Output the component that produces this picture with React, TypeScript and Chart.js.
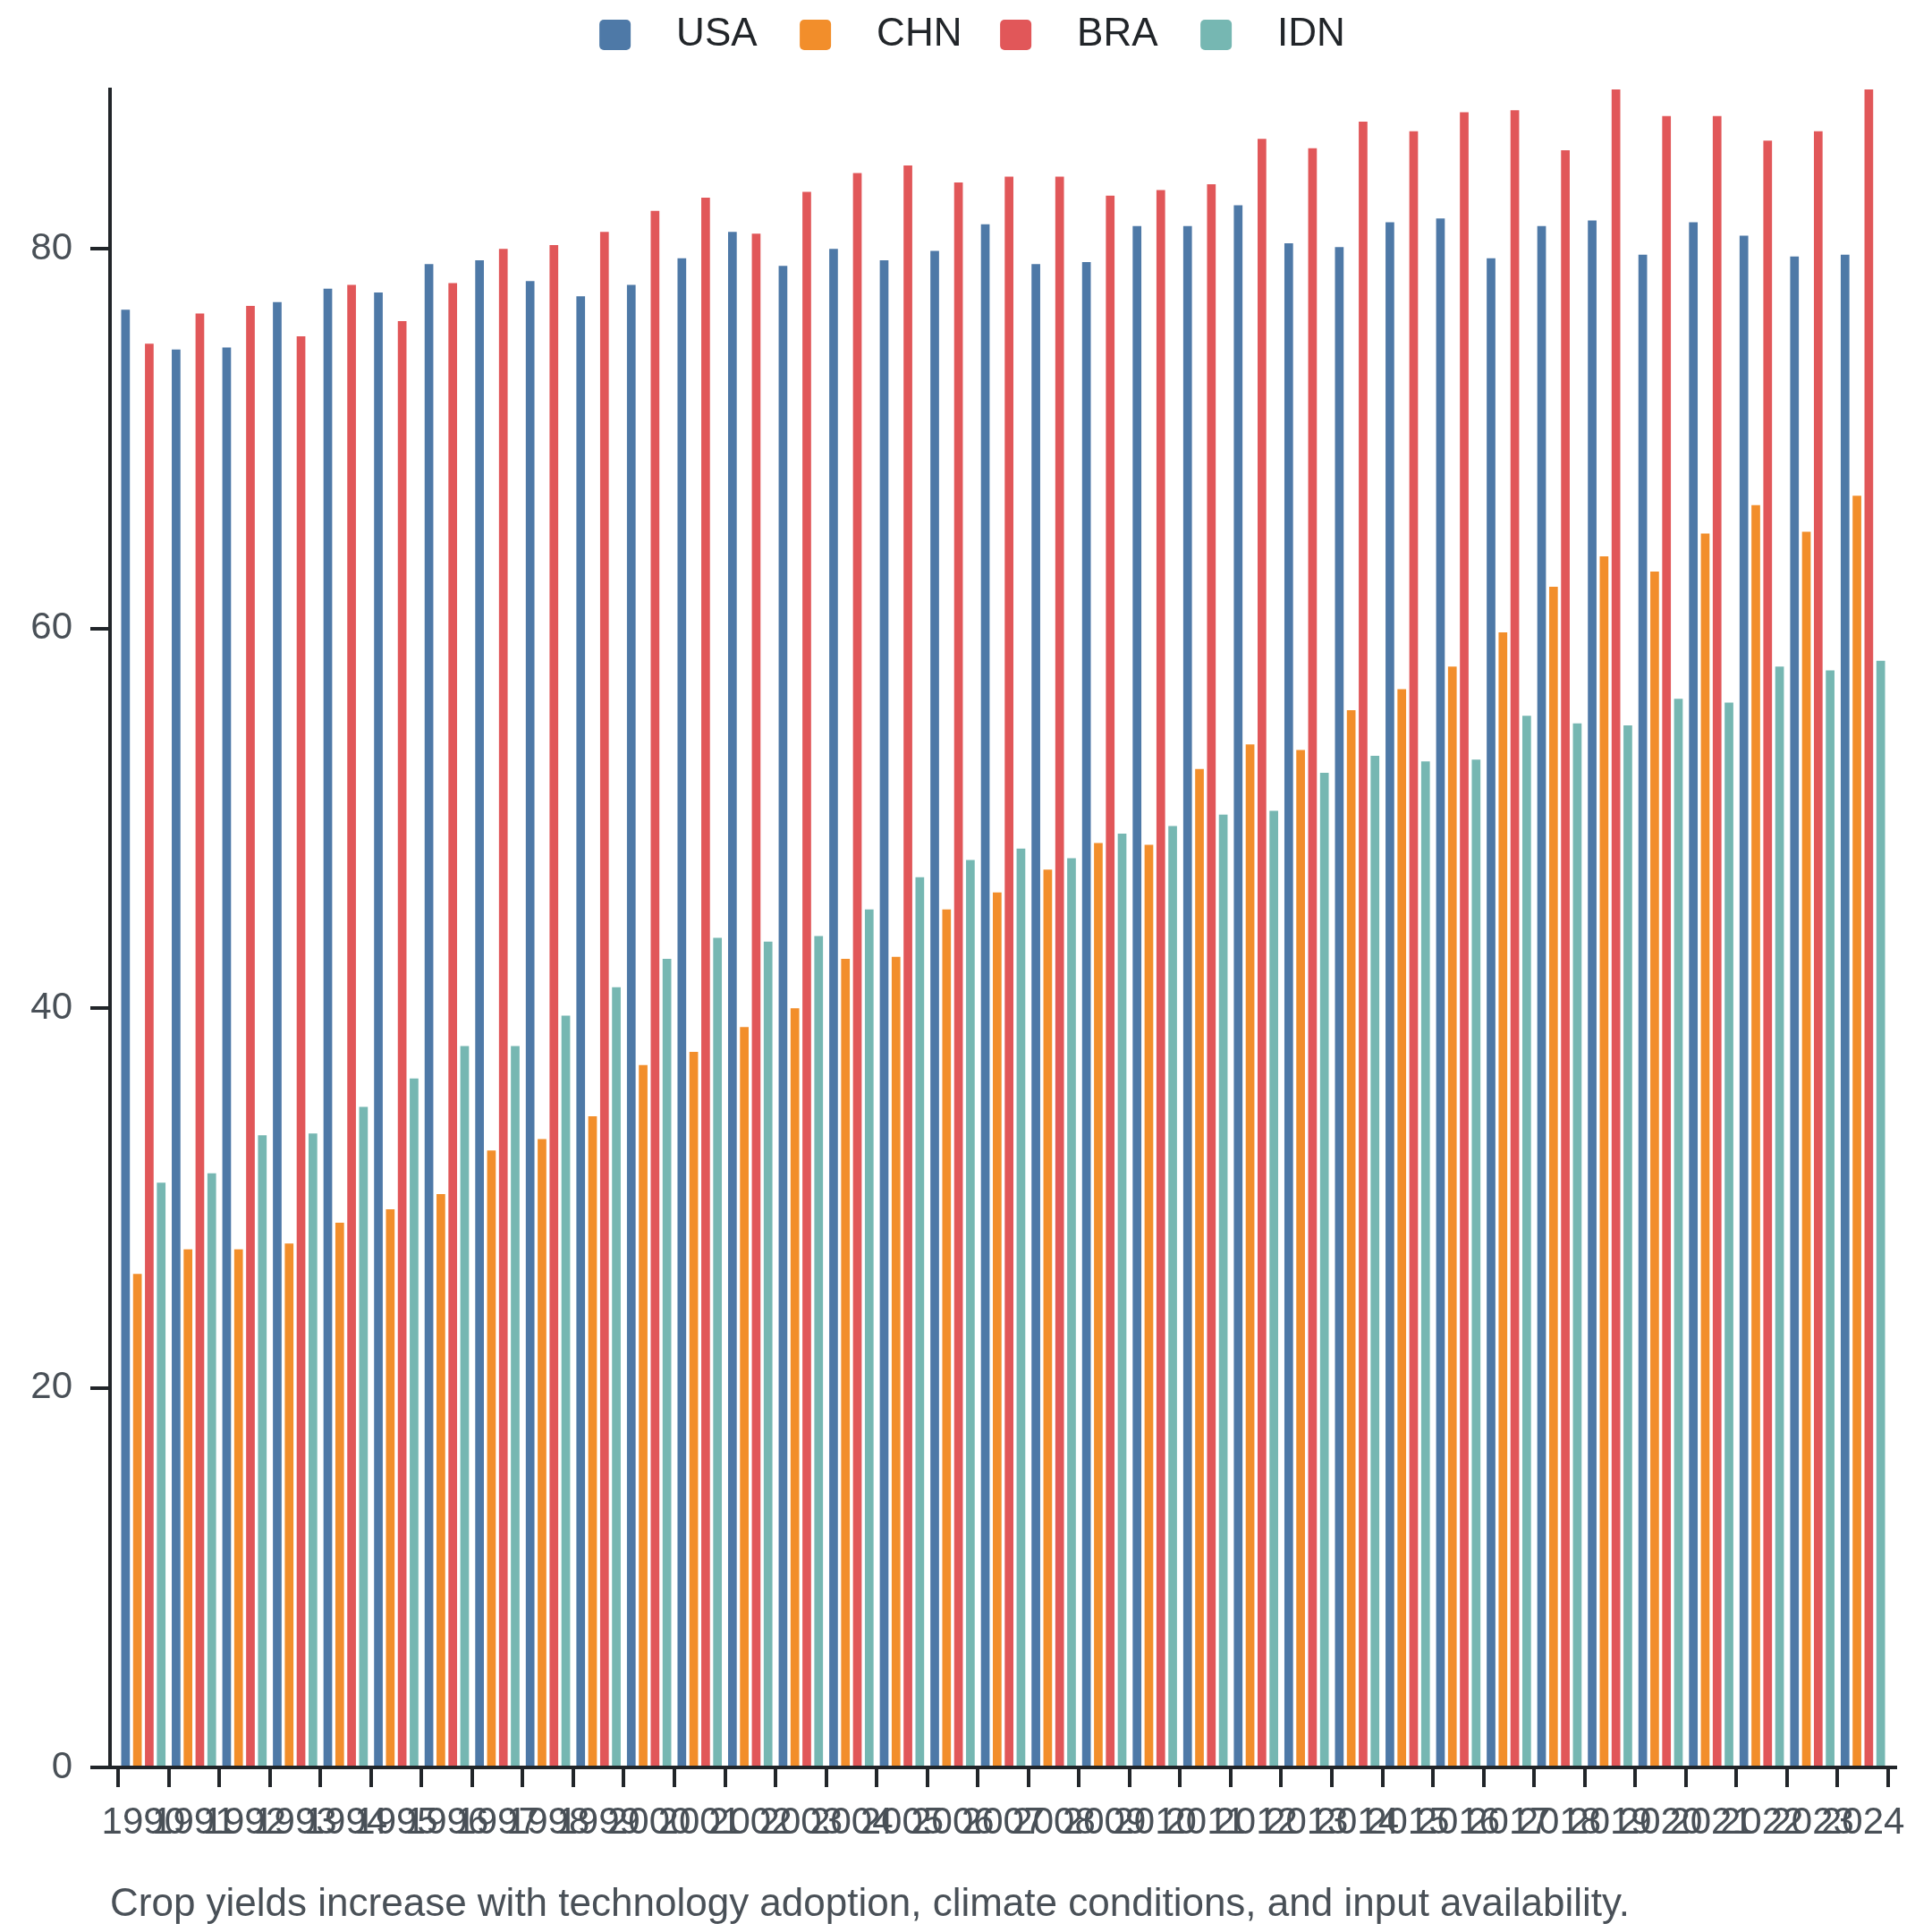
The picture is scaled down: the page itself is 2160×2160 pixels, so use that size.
import React, { useEffect, useRef } from "react";
import { Chart, registerables } from "chart.js";

Chart.register(...registerables);

const YEARS = [
  "1990", "1991", "1992", "1993", "1994", "1995", "1996", "1997", "1998", "1999",
  "2000", "2001", "2002", "2003", "2004", "2005", "2006", "2007", "2008", "2009",
  "2010", "2011", "2012", "2013", "2014", "2015", "2016", "2017", "2018", "2019",
  "2020", "2021", "2022", "2023", "2024",
];

const SERIES_NAMES = ["USA", "CHN", "BRA", "IDN"];

const USA = [
  76.8, 74.7, 74.8, 77.2, 77.9, 77.7, 79.2, 79.4, 78.3, 77.5,
  78.1, 79.5, 80.9, 79.1, 80.0, 79.4, 79.9, 81.3, 79.2, 79.3,
  81.2, 81.2, 82.3, 80.3, 80.1, 81.4, 81.6, 79.5, 81.2, 81.5,
  79.7, 81.4, 80.7, 79.6, 79.7,
];

const CHN = [
  26.0, 27.3, 27.3, 27.6, 28.7, 29.4, 30.2, 32.5, 33.1, 34.3,
  37.0, 37.7, 39.0, 40.0, 42.6, 42.7, 45.2, 46.1, 47.3, 48.7,
  48.6, 52.6, 53.9, 53.6, 55.7, 56.8, 58.0, 59.8, 62.2, 63.8,
  63.0, 65.0, 66.5, 65.1, 67.0,
];

const BRA = [
  75.0, 76.6, 77.0, 75.4, 78.1, 76.2, 78.2, 80.0, 80.2, 80.9,
  82.0, 82.7, 80.8, 83.0, 84.0, 84.4, 83.5, 83.8, 83.8, 82.8,
  83.1, 83.4, 85.8, 85.3, 86.7, 86.2, 87.2, 87.3, 85.2, 88.4,
  87.0, 87.0, 85.7, 86.2, 88.4,
];

const IDN = [
  30.8, 31.3, 33.3, 33.4, 34.8, 36.3, 38.0, 38.0, 39.6, 41.1,
  42.6, 43.7, 43.5, 43.8, 45.2, 46.9, 47.8, 48.4, 47.9, 49.2,
  49.6, 50.2, 50.4, 52.4, 53.3, 53.0, 53.1, 55.4, 55.0, 54.9,
  56.3, 56.1, 58.0, 57.8, 58.3,
];

const Y_TICK_STEP = 20;

const CAPTION =
  "Crop yields increase with technology adoption, climate conditions, and input availability.";

const COLORS = ["#4e79a7", "#f28e2b", "#e15759", "#76b7b2"];
const FONT = "'Liberation Sans', Arial, Helvetica, sans-serif";
const AXIS_COLOR = "#212529";
const TICK_TEXT = "#495057";

// Legend drawn at the top of the canvas: fixed-pitch slots, centred.
const legendPlugin = {
  id: "slotLegend",
  afterDraw(chart: any) {
    const ctx = chart.ctx as CanvasRenderingContext2D;
    const datasets = chart.data.datasets;
    const pitch = 224;
    const boxW = 35;
    const boxH = 34;
    const textGap = 51;
    const centerY = 31;
    ctx.save();
    ctx.font = `44px ${FONT}`;
    const lastW = ctx.measureText(datasets[datasets.length - 1].label).width;
    const total = pitch * (datasets.length - 1) + boxW + textGap + lastW;
    let x = chart.width / 2 - total / 2 + 7;
    datasets.forEach((ds: any) => {
      ctx.fillStyle = ds.backgroundColor;
      ctx.beginPath();
      if ((ctx as any).roundRect) {
        (ctx as any).roundRect(x, centerY - boxH / 2, boxW, boxH, 5);
      } else {
        ctx.rect(x, centerY - boxH / 2, boxW, boxH);
      }
      ctx.fill();
      ctx.fillStyle = AXIS_COLOR;
      ctx.textAlign = "left";
      ctx.textBaseline = "middle";
      ctx.fillText(ds.label, x + boxW + textGap, centerY);
      x += pitch;
    });
    ctx.restore();
  },
};

const axisInset = {
  id: "axisInset",
  afterLayout(chart: any) {
    const s = chart.scales.x;
    if (!s) return;
    s._startPixel = s.left + 9;
    s._endPixel = s.right - 8;
    s._length = s._endPixel - s._startPixel;
  },
};

export default function App() {
  const canvasRef = useRef<HTMLCanvasElement | null>(null);

  useEffect(() => {
    if (!canvasRef.current) return;
    const seriesValues = [USA, CHN, BRA, IDN];

    const chart = new Chart(canvasRef.current, {
      type: "bar",
      data: {
        labels: YEARS,
        datasets: SERIES_NAMES.map((name, i) => ({
          label: name,
          data: seriesValues[i],
          backgroundColor: COLORS[i],
          borderWidth: 0,
          categoryPercentage: 0.94,
          barPercentage: 0.73,
        })),
      },
      plugins: [axisInset, legendPlugin],
      options: {
        animation: false,
        responsive: true,
        maintainAspectRatio: false,
        layout: { padding: { top: 92, left: 0, right: 0, bottom: 0 } },
        plugins: {
          legend: { display: false },
          title: { display: false },
          subtitle: {
            display: true,
            text: CAPTION,
            position: "bottom",
            align: "start",
            fullSize: false,
            color: TICK_TEXT,
            font: { family: FONT, size: 44, lineHeight: 1 },
            padding: { top: 0, bottom: 0 },
          },
          tooltip: { enabled: false },
        },
        scales: {
          x: {
            type: "category",
            offset: true,
            grid: {
              display: true,
              offset: true,
              drawOnChartArea: false,
              drawTicks: true,
              tickLength: 22,
              tickWidth: 4,
              tickColor: AXIS_COLOR,
              lineWidth: 4,
              color: AXIS_COLOR,
            },
            border: { display: true, color: AXIS_COLOR, width: 4 },
            ticks: {
              autoSkip: false,
              maxRotation: 0,
              minRotation: 0,
              padding: 15,
              color: TICK_TEXT,
              font: { family: FONT, size: 42 },
            },
            afterFit: (scale: any) => {
              scale.height = 132;
              scale.paddingRight = 33;
            },
          },
          y: {
            type: "linear",
            beginAtZero: true,
            bounds: "data",
            grid: {
              display: true,
              drawOnChartArea: false,
              drawTicks: true,
              tickLength: 22,
              tickWidth: 4,
              tickColor: AXIS_COLOR,
              lineWidth: 4,
              color: AXIS_COLOR,
            },
            border: { display: true, color: AXIS_COLOR, width: 4 },
            ticks: {
              stepSize: Y_TICK_STEP,
              padding: 20,
              color: TICK_TEXT,
              font: { family: FONT, size: 42 },
            },
            afterBuildTicks: (scale: any) => {
              scale.ticks = scale.ticks.filter(
                (t: any) => Math.abs(t.value % Y_TICK_STEP) < 1e-9
              );
            },
            afterFit: (scale: any) => {
              scale.width = 115;
              scale.paddingTop = 0;
            },
          },
        },
      },
    } as any);

    return () => chart.destroy();
  }, []);

  return (
    <div style={{ position: "relative", width: "100%", height: 2144 }}>
      <canvas ref={canvasRef} />
    </div>
  );
}
